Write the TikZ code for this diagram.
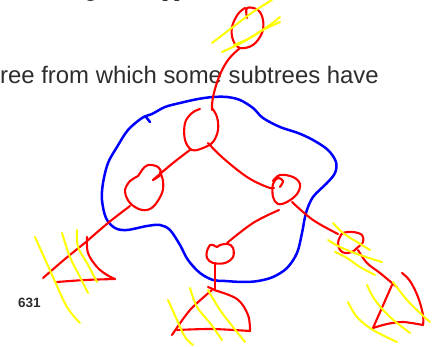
\documentclass[tikz,border=0pt]{standalone}
\usepackage{fontspec}
\setmainfont{Liberation Sans}
\definecolor{txtgray}{RGB}{45,45,45}
\definecolor{penred}{RGB}{255,0,0}
\definecolor{penblue}{RGB}{0,0,255}
\definecolor{penyellow}{RGB}{255,255,0}
\begin{document}
\begin{tikzpicture}[x=1pt,y=-1pt,
  redpen/.style={draw=penred, line width=2.1pt, line cap=round, line join=round},
  bluepen/.style={draw=penblue, line width=2.5pt, line cap=round, line join=round},
  yellowpen/.style={draw=penyellow, line width=2pt, line cap=round, line join=round},
  bigtext/.style={inner sep=0pt, anchor=base west, text=txtgray, font=\fontsize{23.9}{28}\selectfont},
  pagenum/.style={inner sep=0pt, anchor=base west, text=txtgray, font=\bfseries\fontsize{13.5}{16}\selectfont}]
\useasboundingbox (0,0) rectangle (432,347);

% text
\node[bigtext] (frag1) at (84,-3.5) {g};
\node[bigtext] (frag2) at (161,-3.5) {[ ]};
\node[bigtext] (line) at (0,84) {ree from which some subtrees have};
\node[pagenum] (num) at (18,308) {631};

% blue region
\draw[bluepen] plot[smooth cycle, tension=0.55] coordinates {
 (152,114) (165,107) (180,103) (198,99) (213,97) (227,97) (240,100) (253,108)
 (263,118) (280,127) (298,133) (313,140) (328,150) (336,162) (335,173) (327,183)
 (313,197) (306,213) (302,233) (297,253) (287,268) (273,277) (258,281) (243,282)
 (225,281) (213,280) (200,273) (188,260) (180,245) (170,230) (160,225) (147,226)
 (127,230) (115,228) (106,218) (102,200) (103,183) (108,163) (117,147) (128,130)
 (142,118)};
\draw[bluepen] (146,117) -- (150,122);

% red tree: top removed node
\draw[redpen] plot[smooth, tension=0.6] coordinates {
 (247,18) (247,8) (258,10) (263,20) (262,33) (253,45) (240,48) (233,40) (232,27) (238,14) (245,8)};
\draw[redpen] plot[smooth, tension=0.6] coordinates {(240,48) (228,60) (219,77) (213,97) (212,110)};
% inner top node
\draw[redpen] plot[smooth, tension=0.6] coordinates {
 (212,108) (217,117) (218,130) (213,142) (203,148) (192,150) (185,140) (185,123) (192,113) (200,109)};
% edge to left node
\draw[redpen] plot[smooth, tension=0.6] coordinates {(190,150) (173,163) (153,180)};
% left node
\draw[redpen] plot[smooth, tension=0.6] coordinates {
 (153,180) (161,174) (158,167) (148,165) (142,170) (138,176) (130,181) (125,191) (130,203) (142,210)
 (153,207) (162,193) (163,181) (160,172)};
% edge to bottom-left subtree
\draw[redpen] plot[smooth, tension=0.6] coordinates {(130,206) (108,223) (86,242)};
% bottom-left subtree
\draw[redpen] plot[smooth, tension=0.5] coordinates {(86,242) (65,259) (43,278)};
\draw[redpen] plot[smooth, tension=0.5] coordinates {(57,282) (85,280) (115,279)};
\draw[redpen] plot[smooth, tension=0.6] coordinates {(87,237) (88,253) (97,267) (107,275) (115,279)};
% edge to right node
\draw[redpen] plot[smooth, tension=0.6] coordinates {(208,143) (223,158) (247,177) (267,187) (274,188)};
% right node
\draw[redpen] plot[smooth, tension=0.6] coordinates {
 (273,181) (280,175) (293,177) (300,184) (297,194) (287,202) (278,204) (273,197) (273,184) (278,178) (283,181) (280,187)};
% edge to bottom node
\draw[redpen] plot[smooth, tension=0.6] coordinates {(279,210) (253,223) (227,243)};
% bottom node
\draw[redpen] plot[smooth, tension=0.6] coordinates {
 (210,245) (207,251) (207,258) (213,263) (225,263) (233,257) (233,248) (228,244) (220,245) (217,247) (213,245) (210,245)};
\draw[redpen] (215,263) -- (215,290);
% bottom-middle subtree
\draw[redpen] (208,287) -- (215,290);
\draw[redpen] plot[smooth, tension=0.5] coordinates {(212,290) (190,310) (172,335)};
\draw[redpen] plot[smooth, tension=0.5] coordinates {(177,330) (212,329) (250,331)};
\draw[redpen] plot[smooth, tension=0.6] coordinates {(214,290) (237,299) (248,315) (250,331)};
% edge to small right node
\draw[redpen] plot[smooth, tension=0.6] coordinates {(292,202) (313,220) (338,234)};
% small right node
\draw[redpen] plot[smooth cycle, tension=0.6] coordinates {
 (343,233) (353,232) (362,235) (363,242) (357,248) (352,252) (345,253) (340,250) (338,243) (340,237)};
\draw[redpen] plot[smooth, tension=0.6] coordinates {(358,250) (367,263) (380,273) (392,283) (397,287)};
% bottom-right subtree
\draw[redpen] (392,285) -- (373,328);
\draw[redpen] plot[smooth, tension=0.5] coordinates {(373,328) (387,324) (403,322) (423,325)};
\draw[redpen] plot[smooth, tension=0.6] coordinates {(402,273) (410,281) (418,297) (423,315) (423,325)};

% yellow hatching
\draw[yellowpen] plot[smooth, tension=0.6] coordinates {(212,43) (233,27) (253,12) (272,0)};
\draw[yellowpen] plot[smooth, tension=0.6] coordinates {(222,52) (243,42) (267,27) (280,17)};
\draw[yellowpen] plot[smooth, tension=0.6] coordinates {(234,45) (250,38) (263,30) (280,22)};

\draw[yellowpen] plot[smooth, tension=0.6] coordinates {(35,237) (53,277) (67,307) (80,323)};
\draw[yellowpen] plot[smooth, tension=0.6] coordinates {(62,233) (70,257) (80,277) (88,293)};
\draw[yellowpen] plot[smooth, tension=0.6] coordinates {(77,230) (78,247) (87,263) (97,282)};

\draw[yellowpen] plot[smooth, tension=0.6] coordinates {(168,300) (177,320) (185,337) (193,345)};
\draw[yellowpen] plot[smooth, tension=0.6] coordinates {(190,288) (197,307) (210,323) (222,340)};
\draw[yellowpen] plot[smooth, tension=0.6] coordinates {(208,290) (220,310) (233,327) (245,342)};

\draw[yellowpen] plot[smooth, tension=0.6] coordinates {(333,223) (343,233) (357,242) (370,250)};
\draw[yellowpen] plot[smooth, tension=0.6] coordinates {(328,240) (340,247) (360,255) (382,262)};
\draw[yellowpen] plot[smooth, tension=0.6] coordinates {(335,252) (347,258) (360,267) (375,275)};

\draw[yellowpen] plot[smooth, tension=0.6] coordinates {(367,285) (375,300) (390,317) (410,333)};
\draw[yellowpen] plot[smooth, tension=0.6] coordinates {(348,302) (357,317) (373,330) (397,342)};
\draw[yellowpen] plot[smooth, tension=0.6] coordinates {(393,282) (407,300) (420,313) (430,322)};
\end{tikzpicture}
\end{document}
